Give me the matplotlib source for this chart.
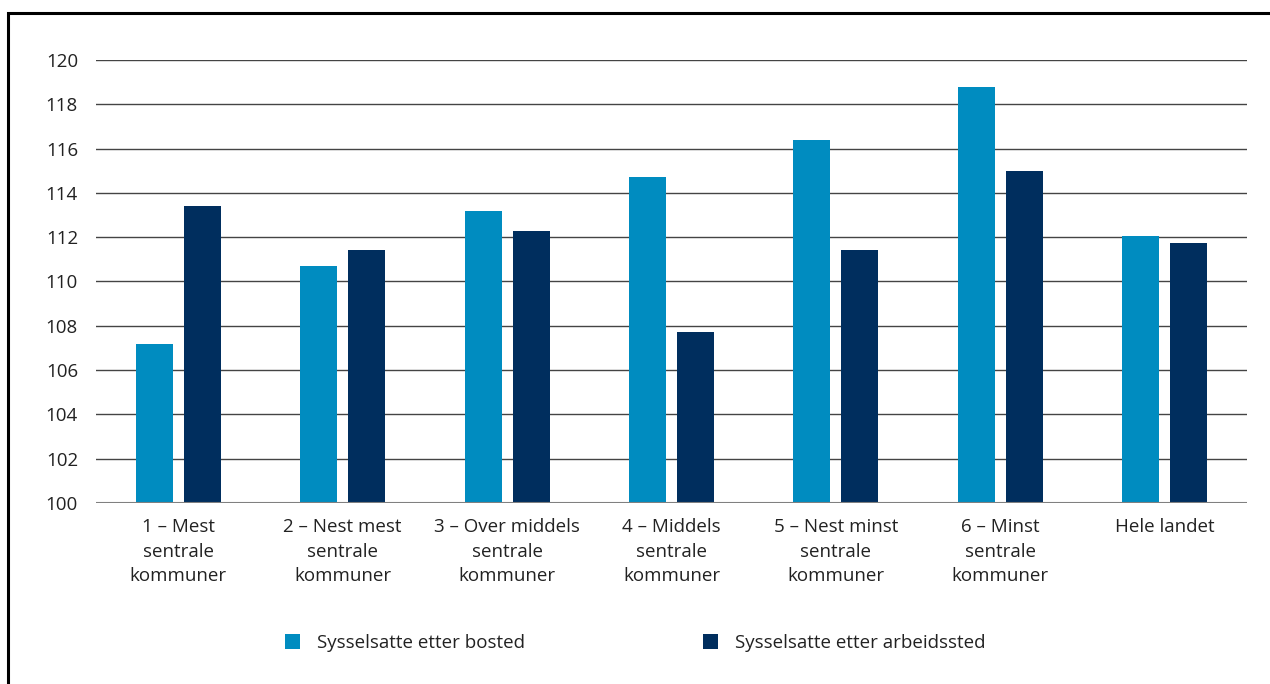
import numpy as np
import matplotlib
matplotlib.use("Agg")
import matplotlib.pyplot as plt
from matplotlib.patches import Rectangle

# Data
categories = [
    "1 – Mest\nsentrale\nkommuner",
    "2 – Nest mest\nsentrale\nkommuner",
    "3 – Over middels\nsentrale\nkommuner",
    "4 – Middels\nsentrale\nkommuner",
    "5 – Nest minst\nsentrale\nkommuner",
    "6 – Minst\nsentrale\nkommuner",
    "Hele landet",
]
bosted = [107.2, 110.7, 113.2, 114.7, 116.4, 118.8, 112.05]
arbeidssted = [113.4, 111.4, 112.3, 107.7, 111.4, 115.0, 111.75]
series_names = ["Sysselsatte etter bosted", "Sysselsatte etter arbeidssted"]
yticks = list(range(100, 121, 2))

light = "#008cc0"
dark = "#002e5e"
text_col = "#222222"

plt.rcParams["font.family"] = ["Open Sans", "DejaVu Sans"]

fig = plt.figure(figsize=(12.7, 6.84), dpi=100)
ax = fig.add_axes([96 / 1270, 1 - 503 / 684, (1247 - 96) / 1270, (503 - 60) / 684])

x = np.arange(len(categories))
w = 0.225
off = 0.146
b1 = ax.bar(x - off, np.array(bosted) - 100, w, bottom=100, color=light, zorder=3,
            label=series_names[0])
b2 = ax.bar(x + off, np.array(arbeidssted) - 100, w, bottom=100, color=dark, zorder=3,
            label=series_names[1])

ax.set_xlim(-0.5, len(categories) - 0.5)
ax.set_ylim(100, 120)
ax.set_yticks(yticks)
ax.set_xticks(x)
ax.set_xticklabels(categories, fontsize=13.5, color=text_col, linespacing=1.45)
ax.tick_params(axis="y", labelsize=13.5, labelcolor=text_col, length=0, pad=13)
ax.tick_params(axis="x", length=0, pad=11)
ax.grid(axis="y", color="#444444", linewidth=1.0, zorder=0)
for s in ax.spines.values():
    s.set_visible(False)
ax.axhline(100, color="#808080", linewidth=1.5, zorder=4)

fig.legend(handles=[b1, b2], labels=series_names, loc="center",
           bbox_to_anchor=(0.5, 1 - 643 / 684), ncol=2, frameon=False,
           fontsize=13.5, handlelength=0.8, handleheight=0.8, handletextpad=0.9,
           columnspacing=9.5, labelcolor=text_col)

# outer frame (continues past right and bottom edges)
fig.patches.append(Rectangle((8 / 1270, -0.1), 1.2, 1 - 13 / 684 + 0.1,
                             transform=fig.transFigure, fill=False,
                             edgecolor="black", linewidth=2.2))

fig.savefig("out.png", dpi=100)
